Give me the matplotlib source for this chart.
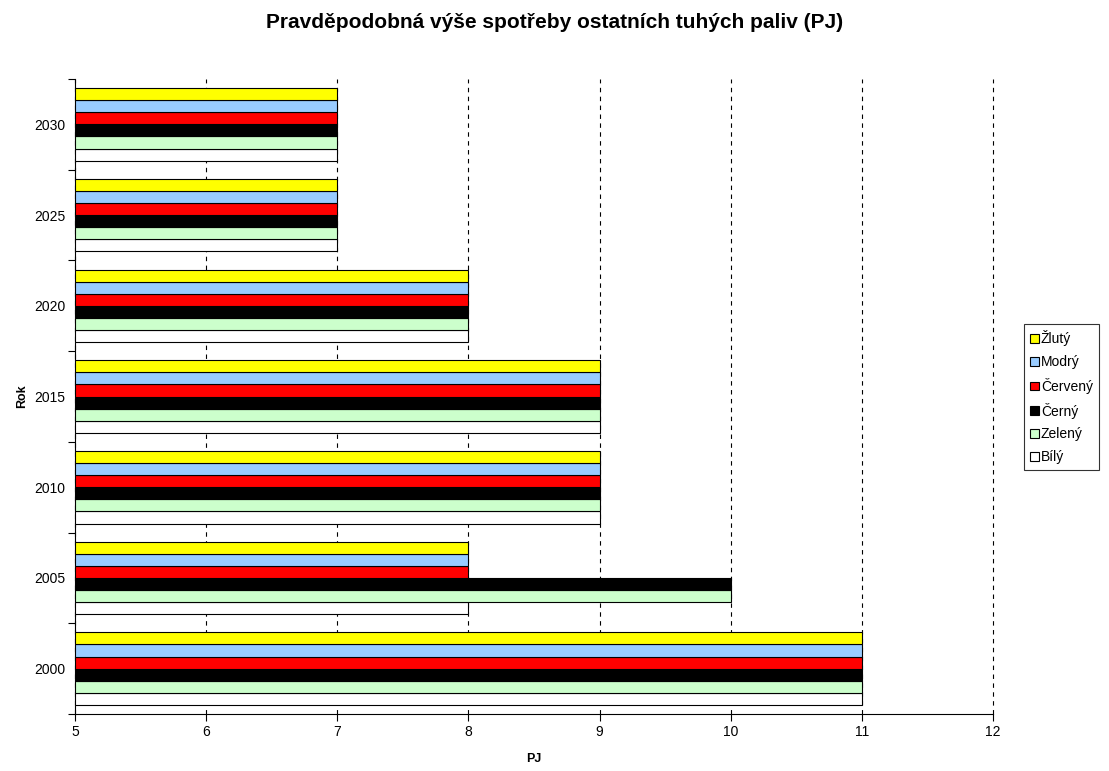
import matplotlib
matplotlib.use("Agg")
import matplotlib.pyplot as plt
import numpy as np

plt.rcParams['font.family'] = ['Liberation Sans', 'DejaVu Sans']

years = ['2000', '2005', '2010', '2015', '2020', '2025', '2030']
# series listed bottom-to-top within each group
series_names = ['Bílý', 'Zelený', 'Černý', 'Červený', 'Modrý', 'Žlutý']
series_colors = ['#FFFFFF', '#CCFFCC', '#000000', '#FF0000', '#99CCFF', '#FFFF00']
bily    = [11, 8, 9, 9, 8, 7, 7]
zeleny  = [11, 10, 9, 9, 8, 7, 7]
cerny   = [11, 10, 9, 9, 8, 7, 7]
cerveny = [11, 8, 9, 9, 8, 7, 7]
modry   = [11, 8, 9, 9, 8, 7, 7]
zluty   = [11, 8, 9, 9, 8, 7, 7]
series_values = [bily, zeleny, cerny, cerveny, modry, zluty]

fig = plt.figure(figsize=(11.09, 7.71), dpi=100)
ax = fig.add_axes([0.0676, 0.0739, 0.8278, 0.8236])

base = 5
n = len(series_names)
group_w = 0.80
bar_h = group_w / n
y = np.arange(len(years))
handles = []
for i, (name, col, vals) in enumerate(zip(series_names, series_colors, series_values)):
    off = -group_w / 2 + bar_h * (i + 0.5)
    h = ax.barh(y + off, np.array(vals) - base, left=base, height=bar_h,
                color=col, edgecolor='black', linewidth=0.8, label=name, zorder=3)
    handles.append(h)

ax.set_xlim(5, 12)
ax.set_ylim(-0.5, len(years) - 0.5)
ax.set_xticks(np.arange(5, 13, 1))
ax.tick_params(axis='x', direction='out', length=5, labelsize=10, width=0.8, pad=3)
ax.xaxis.grid(True, linestyle=(0, (4, 4)), color='black', linewidth=0.8, zorder=0)
for gl in ax.get_xgridlines():
    gl.set_clip_on(False)
ax.set_axisbelow(True)

ax.set_yticks(np.arange(-0.5, len(years), 1))
ax.set_yticklabels([])
ax.set_yticks(y, minor=True)
ax.set_yticklabels(years, minor=True, fontsize=10)
ax.tick_params(axis='y', which='major', direction='out', length=5, width=0.8)
ax.tick_params(axis='y', which='minor', length=0, pad=7)

for s in ['top', 'right']:
    ax.spines[s].set_visible(False)
for s in ['left', 'bottom']:
    ax.spines[s].set_linewidth(0.8)

ax.set_xlabel('PJ', fontsize=9, fontweight='bold', labelpad=10)
ax.set_ylabel('Rok', fontsize=9, fontweight='bold', labelpad=4)
fig.suptitle('Pravděpodobná výše spotřeby ostatních tuhých paliv (PJ)',
             fontsize=15, fontweight='bold', y=0.983)

leg = ax.legend(handles[::-1], series_names[::-1], loc='upper left',
                bbox_to_anchor=(1.034, 0.614), fontsize=10, frameon=True,
                fancybox=False, edgecolor='black', handlelength=0.6,
                handleheight=0.6, handletextpad=0.15, labelspacing=0.63,
                borderpad=0.45, borderaxespad=0)
leg.get_frame().set_linewidth(0.8)

fig.savefig('out.png', dpi=100)
